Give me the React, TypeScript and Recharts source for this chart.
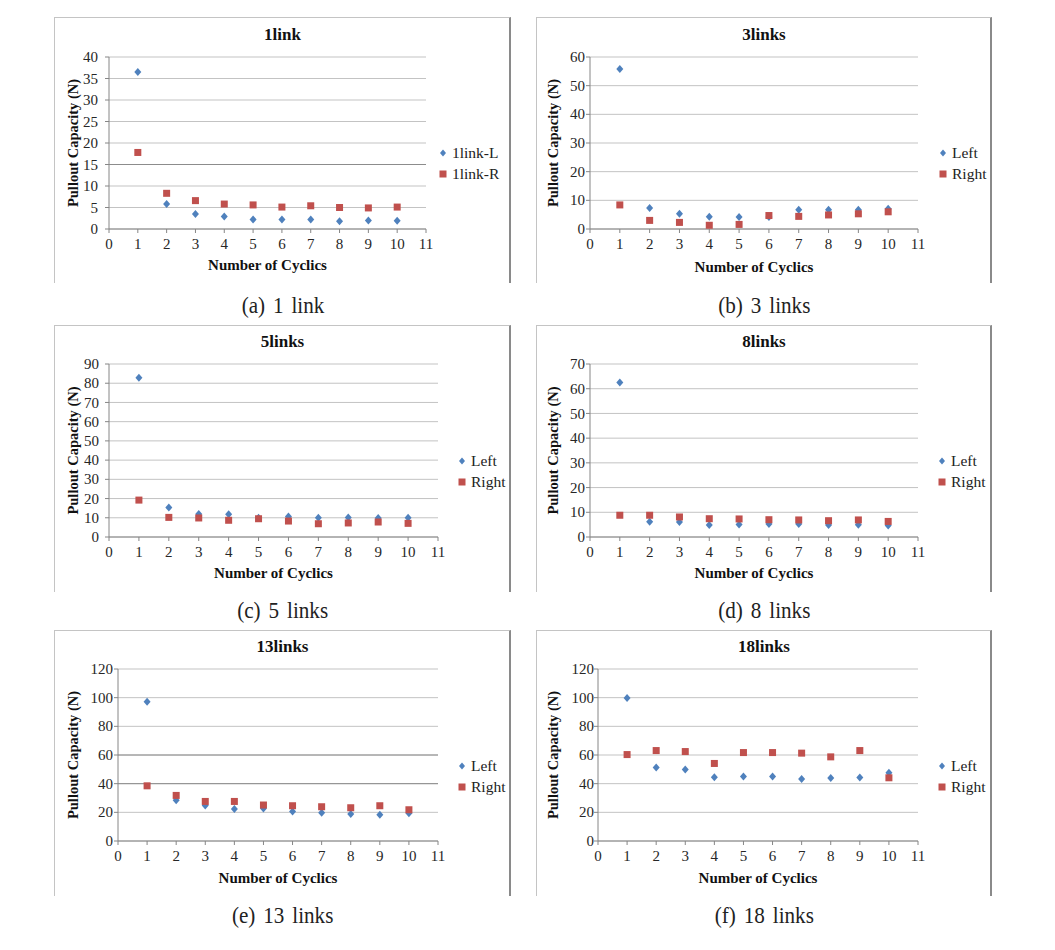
import { ScatterChart, Scatter, XAxis, YAxis, CartesianGrid, Legend, ReferenceLine, Label } from 'recharts';

// cycle numbers on the x axis
const CYCLES = [1, 2, 3, 4, 5, 6, 7, 8, 9, 10];
const X_TICKS = [0, 1, 2, 3, 4, 5, 6, 7, 8, 9, 10, 11];

// pullout capacity (N)
const LINK1_LEFT = [36.5, 5.8, 3.5, 2.9, 2.2, 2.2, 2.2, 1.8, 2.0, 1.9];
const LINK1_RIGHT = [17.8, 8.3, 6.6, 5.8, 5.6, 5.1, 5.4, 5.0, 4.9, 5.1];
const LINK3_LEFT = [55.8, 7.3, 5.3, 4.3, 4.2, 4.2, 6.7, 6.7, 6.7, 7.1];
const LINK3_RIGHT = [8.4, 3.0, 2.3, 1.3, 1.6, 4.7, 4.4, 4.9, 5.3, 6.0];
const LINK5_LEFT = [82.8, 15.3, 12.0, 11.8, 10.0, 10.6, 10.0, 10.2, 9.9, 10.0];
const LINK5_RIGHT = [19.2, 10.2, 9.9, 8.7, 9.5, 8.3, 6.9, 7.3, 7.8, 7.1];
const LINK8_LEFT = [62.5, 6.2, 6.1, 4.9, 5.1, 5.3, 5.3, 4.9, 5.0, 4.7];
const LINK8_RIGHT = [8.8, 8.8, 8.1, 7.4, 7.3, 7.0, 6.9, 6.6, 6.9, 6.3];
const LINK13_LEFT = [97.2, 28.5, 24.8, 22.3, 22.7, 20.6, 19.7, 18.8, 18.3, 19.3];
const LINK13_RIGHT = [38.5, 31.8, 27.6, 27.6, 25.1, 24.6, 23.9, 23.2, 24.6, 21.8];
const LINK18_LEFT = [99.8, 51.3, 49.9, 44.5, 45.0, 45.0, 43.2, 43.9, 44.3, 47.6];
const LINK18_RIGHT = [60.3, 63.1, 62.4, 54.1, 61.7, 61.7, 61.3, 58.7, 63.1, 44.1];

// y axis ticks per panel
const Y_TICKS_1 = [0, 5, 10, 15, 20, 25, 30, 35, 40];
const Y_TICKS_3 = [0, 10, 20, 30, 40, 50, 60];
const Y_TICKS_5 = [0, 10, 20, 30, 40, 50, 60, 70, 80, 90];
const Y_TICKS_8 = [0, 10, 20, 30, 40, 50, 60, 70];
const Y_TICKS_13 = [0, 20, 40, 60, 80, 100, 120];
const Y_TICKS_18 = [0, 20, 40, 60, 80, 100, 120];

// gridlines that print darker in the scan
const DARK_1 = [15];
const DARK_13 = [40, 60];

const BLUE = '#4F81BD';
const RED = '#C0504D';
const SERIF = '"Liberation Serif", "Times New Roman", serif';

const PANELS = [
  {
    title: '1link', caption: '(a) 1 link', names: ['1link-L', '1link-R'],
    left: LINK1_LEFT, right: LINK1_RIGHT, yTicks: Y_TICKS_1, dark: DARK_1,
    frame: { x: 54, y: 17, w: 457, h: 266 }, plot: { l: 109, t: 57, r: 426, b: 229 },
    yLabelX: 73, xLabelY: 265, titleY: 35, legendX: 443, legendY: 153, tickGap: 7, captionY: 305,
  },
  {
    title: '3links', caption: '(b) 3 links', names: ['Left', 'Right'],
    left: LINK3_LEFT, right: LINK3_RIGHT, yTicks: Y_TICKS_3, dark: [],
    frame: { x: 536, y: 17, w: 456, h: 266 }, plot: { l: 590, t: 57, r: 918, b: 229 },
    yLabelX: 553, xLabelY: 267, titleY: 35, legendX: 943, legendY: 153, tickGap: 1, captionY: 305,
  },
  {
    title: '5links', caption: '(c) 5 links', names: ['Left', 'Right'],
    left: LINK5_LEFT, right: LINK5_RIGHT, yTicks: Y_TICKS_5, dark: [],
    frame: { x: 54, y: 325, w: 457, h: 267 }, plot: { l: 109, t: 364, r: 438, b: 537 },
    yLabelX: 73, xLabelY: 573, titleY: 342, legendX: 462, legendY: 461, tickGap: 6, captionY: 610,
  },
  {
    title: '8links', caption: '(d) 8 links', names: ['Left', 'Right'],
    left: LINK8_LEFT, right: LINK8_RIGHT, yTicks: Y_TICKS_8, dark: [],
    frame: { x: 536, y: 325, w: 456, h: 267 }, plot: { l: 590, t: 364, r: 918, b: 537 },
    yLabelX: 553, xLabelY: 573, titleY: 342, legendX: 942, legendY: 461, tickGap: 1, captionY: 610,
  },
  {
    title: '13links', caption: '(e) 13 links', names: ['Left', 'Right'],
    left: LINK13_LEFT, right: LINK13_RIGHT, yTicks: Y_TICKS_13, dark: DARK_13,
    frame: { x: 54, y: 630, w: 457, h: 266 }, plot: { l: 118, t: 669, r: 438, b: 841 },
    yLabelX: 73, xLabelY: 878, titleY: 647, legendX: 462, legendY: 766, tickGap: 1, captionY: 915,
  },
  {
    title: '18links', caption: '(f) 18 links', names: ['Left', 'Right'],
    left: LINK18_LEFT, right: LINK18_RIGHT, yTicks: Y_TICKS_18, dark: [],
    frame: { x: 536, y: 630, w: 456, h: 266 }, plot: { l: 598, t: 669, r: 918, b: 841 },
    yLabelX: 553, xLabelY: 878, titleY: 647, legendX: 942, legendY: 766, tickGap: 0, captionY: 915,
  },
];

const Y_AXIS_W = 40;
const X_AXIS_H = 44;

const Diamond = (props: any) => {
  const { cx, cy } = props;
  if (cx == null || cy == null) return null;
  return <path d={`M${cx},${cy - 4}L${cx + 3.5},${cy}L${cx},${cy + 4}L${cx - 3.5},${cy}Z`} fill={BLUE} />;
};

const Square = (props: any) => {
  const { cx, cy } = props;
  if (cx == null || cy == null) return null;
  return <rect x={cx - 3.5} y={cy - 3.5} width={7} height={7} fill={RED} />;
};

// tick text drawn with an explicit serif face
const XTick = (props: any) => (
  <text x={props.x} y={props.y} dy="0.71em" textAnchor="middle" fontFamily={SERIF} fontSize={15} fill="#262626">
    {props.payload.value}
  </text>
);

const YTick = (props: any) => (
  <text x={props.x} y={props.y} dy="0.34em" textAnchor="end" fontFamily={SERIF} fontSize={15} fill="#262626">
    {props.payload.value}
  </text>
);

const LegendBox = (props: any) => {
  const items = props.payload || [];
  return (
    <div>
      {items.map((it: any) => (
        <div key={it.value} style={{ display: 'flex', alignItems: 'center', height: 21.5 }}>
          <svg width={8} height={8} style={{ marginRight: 5 }}>
            {it.type === 'diamond'
              ? <path d="M4,0.5L7,4L4,7.5L1,4Z" fill={BLUE} />
              : <rect x={0.5} y={0.5} width={7} height={7} fill={RED} />}
          </svg>
          <span style={{ fontFamily: SERIF, fontSize: 15.5, color: '#222', lineHeight: '16px' }}>{it.value}</span>
        </div>
      ))}
    </div>
  );
};

function Panel({ p }: { p: (typeof PANELS)[number] }) {
  const { frame, plot } = p;
  const pl = plot.l - frame.x;
  const pt = plot.t - frame.y;
  const pr = plot.r - frame.x;
  const pb = plot.b - frame.y;
  const margin = { top: pt, left: pl - Y_AXIS_W, right: frame.w - pr, bottom: frame.h - pb - X_AXIS_H };
  const leftData = CYCLES.map((c, i) => ({ x: c, y: p.left[i] }));
  const rightData = CYCLES.map((c, i) => ({ x: c, y: p.right[i] }));
  const yMax = p.yTicks[p.yTicks.length - 1];
  const yLabelOffset = p.yLabelX - frame.x - margin.left;
  const xLabelOffset = pb + X_AXIS_H - (p.xLabelY - frame.y + 5);

  return (
    <>
      <div style={{ position: 'absolute', left: frame.x, top: frame.y, width: frame.w, height: frame.h }}>
        <ScatterChart width={frame.w} height={frame.h} margin={margin}>
          <CartesianGrid vertical={false} stroke="#c3c3c3" />
          {p.dark.map((v) => (
            <ReferenceLine key={v} y={v} stroke="#8c8c8c" />
          ))}
          <XAxis
            type="number"
            dataKey="x"
            domain={[0, 11]}
            ticks={X_TICKS}
            interval={0}
            height={X_AXIS_H}
            stroke="#868686"
            tickSize={4}
            tickMargin={5}
            tick={XTick}
          >
            <Label
              value="Number of Cyclics"
              position="insideBottom"
              offset={xLabelOffset}
              style={{ fontFamily: SERIF, fontSize: 15, fontWeight: 'bold', fill: '#111' }}
            />
          </XAxis>
          <YAxis
            type="number"
            dataKey="y"
            domain={[0, yMax]}
            ticks={p.yTicks}
            interval={0}
            width={Y_AXIS_W}
            stroke="#868686"
            tickSize={4}
            tickMargin={p.tickGap}
            tick={YTick}
          >
            <Label
              value="Pullout Capacity (N)"
              angle={-90}
              position="insideLeft"
              offset={yLabelOffset}
              style={{ fontFamily: SERIF, fontSize: 14.5, fontWeight: 'bold', fill: '#111', textAnchor: 'middle' }}
            />
          </YAxis>
          <Legend
            layout="vertical"
            align="center"
            verticalAlign="middle"
            wrapperStyle={{ left: p.legendX - 4 - frame.x, top: p.legendY - 11 - frame.y, width: 100 }}
            content={LegendBox}
          />
          <Scatter name={p.names[0]} data={leftData} fill={BLUE} legendType="diamond" shape={Diamond} isAnimationActive={false} />
          <Scatter name={p.names[1]} data={rightData} fill={RED} legendType="square" shape={Square} isAnimationActive={false} />
        </ScatterChart>
        <div
          style={{
            position: 'absolute', left: 0, top: p.titleY - frame.y - 10, width: frame.w, textAlign: 'center',
            fontFamily: SERIF, fontWeight: 'bold', fontSize: 17, lineHeight: '20px', color: '#111',
          }}
        >
          {p.title}
        </div>
        <div
          style={{
            position: 'absolute', left: 0, top: 0, width: frame.w, height: frame.h, boxSizing: 'border-box',
            borderLeft: '1px solid #c4c4c4', borderTop: '1px solid #c4c4c4', borderRight: '2px solid #8a8a8a',
            pointerEvents: 'none',
          }}
        />
      </div>
      <div
        style={{
          position: 'absolute', left: frame.x, top: p.captionY - 15, width: frame.w, textAlign: 'center',
          fontFamily: SERIF, fontSize: 24, lineHeight: '30px', color: '#222',
        }}
      >
        <span style={{ display: 'inline-block', transform: 'scaleX(0.88)', wordSpacing: 3 }}>{p.caption}</span>
      </div>
    </>
  );
}

export default function App() {
  return (
    <div style={{ position: 'absolute', left: 0, top: 0, width: 1055, height: 950, background: '#fff', fontFamily: SERIF }}>
      {PANELS.map((p) => (
        <Panel key={p.title} p={p} />
      ))}
    </div>
  );
}
